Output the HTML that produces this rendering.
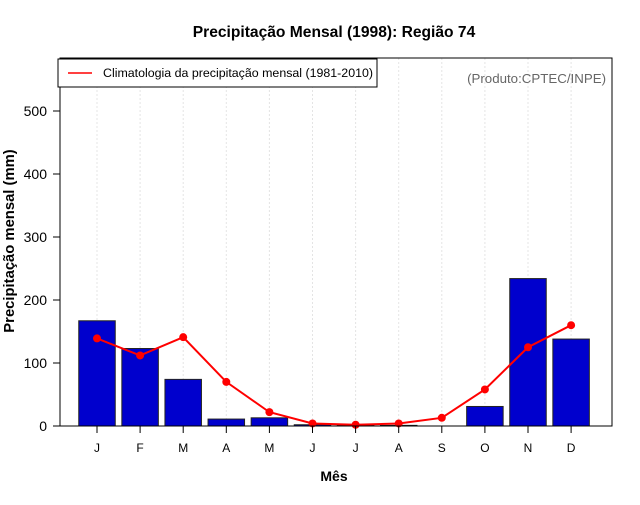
<!DOCTYPE html>
<html><head><meta charset="utf-8"><style>
body{margin:0;background:#fff;}
svg{font-family:"Liberation Sans",Arial,sans-serif;}
</style></head><body>
<svg id="chart" width="640" height="500">
<text x="334" y="37" text-anchor="middle" font-size="15.6" font-weight="bold">Precipitação Mensal (1998): Região 74</text>
<g id="grid"></g>
<g id="bars"></g>
<g id="line"></g>
<rect x="60" y="58" width="552" height="368" fill="none" stroke="#000"/>
<g id="yaxis"></g>
<g id="xaxis"></g>
<text transform="translate(14,241) rotate(-90)" text-anchor="middle" font-size="14.8" font-weight="bold">Precipitação mensal (mm)</text>
<text x="334" y="481" text-anchor="middle" font-size="14" font-weight="bold">Mês</text>
<g>
<rect x="58" y="59" width="319" height="28" fill="#fff" stroke="#000"/>
<line x1="68" y1="73" x2="92" y2="73" stroke="#f00" stroke-width="1.5"/>
<text x="103" y="77" font-size="12.4">Climatologia da precipitação mensal (1981-2010)</text>
</g>
<text x="606" y="83" text-anchor="end" font-size="13.3" fill="#666">(Produto:CPTEC/INPE)</text>
</svg>
<script>
const months = ["J","F","M","A","M","J","J","A","S","O","N","D"];
const precip1998 = [167,123,74,11,13,2,1,1,0,31,234,138];
const climatology = [139,112,141,70,22,4,2,4,13,58,125,160];
const yTicks = [0,100,200,300,400,500];
const NS="http://www.w3.org/2000/svg";
const x0=97, step=43.1, bw=36.5, yBase=426, yScale=0.63;
const xp=i=>x0+i*step;
const yp=v=>yBase-v*yScale;
function mk(tag,attrs,parent){const e=document.createElementNS(NS,tag);for(const k in attrs)e.setAttribute(k,attrs[k]);parent.appendChild(e);return e;}
const grid=document.getElementById('grid'),bars=document.getElementById('bars'),line=document.getElementById('line'),ya=document.getElementById('yaxis'),xa=document.getElementById('xaxis');
months.forEach((m,i)=>{
  const g=mk('line',{x1:xp(i),x2:xp(i),y1:58,y2:426,stroke:'#e4e4e4','stroke-dasharray':'2,2'},grid);
  
  
  const t=mk('line',{x1:xp(i),x2:xp(i),y1:426,y2:433,stroke:'#000'},xa);
  
  
  const l=mk('text',{x:xp(i),y:452,'text-anchor':'middle','font-size':'12'},xa);
  l.textContent=m;
  
  
});
precip1998.forEach((v,i)=>{
  const r=mk('rect',{x:xp(i)-bw/2,y:yp(v),width:bw,height:v*yScale,fill:'#0000cd',stroke:'#222','stroke-width':'1'},bars);
  
  
});
const pl=mk('polyline',{points:climatology.map((v,i)=>xp(i)+','+yp(v)).join(' '),fill:'none',stroke:'#f00','stroke-width':'2'},line);


climatology.forEach((v,i)=>{
  const c=mk('circle',{cx:xp(i),cy:yp(v),r:4,fill:'#f00'},line);
  
  
});
yTicks.forEach(v=>{
  const t=mk('line',{x1:53,x2:60,y1:yp(v),y2:yp(v),stroke:'#000'},ya);
  
  
  const l=mk('text',{x:47,y:yp(v)+5,'text-anchor':'end','font-size':'14'},ya);
  l.textContent=v;
  
  
});
</script>
</body></html>
